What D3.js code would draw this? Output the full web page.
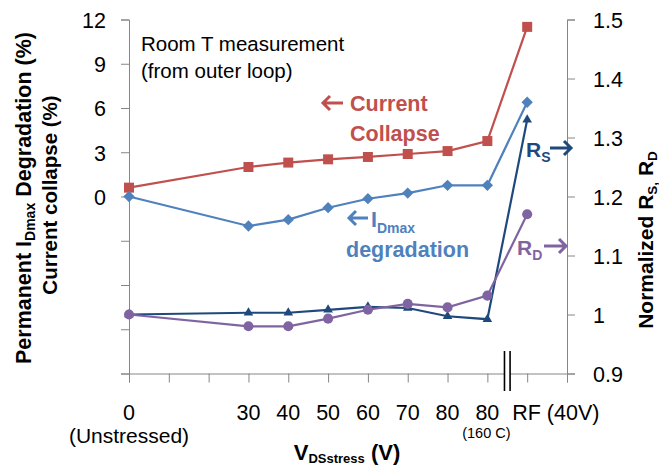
<!DOCTYPE html>
<html>
<head>
<meta charset="utf-8">
<script src="https://cdn.jsdelivr.net/npm/d3@7"></script>
<style>
  body { margin: 0; background: #fff; }
  text { font-family: "Liberation Sans", Arial, sans-serif; }
</style>
</head>
<body>
<div id="chart"></div>
<script>
// categories on the stress axis and their slot along the x axis (slot 1-2 are empty)
const categories = ["0", "30", "40", "50", "60", "70", "80", "80", "RF (40V)"];
const slots = [0, 3, 4, 5, 6, 7, 8, 9, 10];

// left axis (%)
const currentCollapse = [0.6, 2.0, 2.3, 2.52, 2.68, 2.88, 3.08, 3.76, 11.5];
const idmaxDegradation = [0, -2.0, -1.57, -0.76, -0.15, 0.23, 0.76, 0.76, 6.39];
// right axis (normalized)
const rsNorm = [1.0, 1.003, 1.003, 1.008, 1.013, 1.011, 0.997, 0.992, 1.33];
const rdNorm = [1.0, 0.98, 0.98, 0.993, 1.008, 1.018, 1.012, 1.032, 1.17];

const leftTicks = [-12, -9, -6, -3, 0, 3, 6, 9, 12];
const rightTicks = [0.9, 1.0, 1.1, 1.2, 1.3, 1.4, 1.5];

function initChart() {
    const width = 659;
    const height = 466;
    const axisColor = "#868686";

    const svg = d3.select("#chart")
        .append("svg")
        .attr("width", width)
        .attr("height", height);

    const x = d3.scaleLinear().domain([0, 11]).range([129, 567]);
    const yL = d3.scaleLinear().domain([-12, 12]).range([373.5, 19.5]);
    const yR = d3.scaleLinear().domain([0.9, 1.5]).range([373.5, 19.5]);

    // axes
    const leftAxis = svg.append("g")
        .attr("transform", `translate(${x(0)},0)`)
        .call(d3.axisLeft(yL).tickValues(leftTicks).tickSize(8).tickPadding(15)
            .tickFormat(d => d >= 0 ? d : ""));

    const rightAxis = svg.append("g")
        .attr("transform", `translate(${x(11)},0)`)
        .call(d3.axisRight(yR).tickValues(rightTicks).tickSize(8).tickPadding(18)
            .tickFormat(d => d === 1 ? "1" : d3.format(".1f")(d)));

    const bottomAxis = svg.append("g")
        .attr("transform", `translate(0,${yL(-12)})`)
        .call(d3.axisBottom(x).ticks(11).tickSize(9).tickFormat(""));

    [leftAxis, rightAxis, bottomAxis].forEach(g => {
        g.select(".domain").attr("stroke", axisColor);
        g.selectAll(".tick line").attr("stroke", axisColor);
        g.selectAll(".tick text")
            .attr("fill", "#000")
            .style("font-size", "21.5px")
            .style("font-family", "'Liberation Sans', Arial, sans-serif");
    });
    leftAxis.selectAll(".tick text").attr("dy", "0.36em");
    rightAxis.selectAll(".tick text").attr("dy", "0.36em");

    // category labels under the axis
    const labels = svg.append("g").attr("font-size", "21.5px");
    categories.forEach((c, i) => {
        const last = i === categories.length - 1;
        labels.append("text")
            .attr("x", last ? x(slots[i]) - 15 : x(slots[i]))
            .attr("y", 420)
            .attr("text-anchor", last ? "start" : "middle")
            .text(c);
    });
    labels.append("text")
        .attr("x", x(0)).attr("y", 443)
        .attr("text-anchor", "middle")
        .attr("font-size", "21px")
        .text("(Unstressed)");
    labels.append("text")
        .attr("x", x(9) - 1).attr("y", 438)
        .attr("text-anchor", "middle")
        .attr("font-size", "14.5px")
        .text("(160 C)");

    // axis break
    const bx = (x(9) + x(10)) / 2;
    svg.append("rect").attr("x", bx - 2.8).attr("y", 351).attr("width", 5.6).attr("height", 40).attr("fill", "#fff");
    [-2.8, 2.8].forEach(o => {
        svg.append("line")
            .attr("x1", bx + o).attr("x2", bx + o)
            .attr("y1", 351).attr("y2", 391)
            .attr("stroke", "#000").attr("stroke-width", 1.6);
    });

    // series
    const series = [
        { values: currentCollapse, y: yL, color: "#C0504D", symbol: d3.symbolSquare, size: 100, rotate: 0 },
        { values: idmaxDegradation, y: yL, color: "#4F81BD", symbol: d3.symbolSquare, size: 64, rotate: 45 },
        { values: rsNorm, y: yR, color: "#1F497D", symbol: d3.symbolTriangle, size: 40, rotate: 0 },
        { values: rdNorm, y: yR, color: "#8064A2", symbol: d3.symbolCircle, size: 80, rotate: 0 }
    ];

    series.forEach(s => {
        const pts = s.values.map((v, i) => [x(slots[i]), s.y(v)]);
        svg.append("path")
            .datum(pts)
            .attr("d", d3.line())
            .attr("fill", "none")
            .attr("stroke", s.color)
            .attr("stroke-width", 2.2);
        svg.append("g").selectAll("path")
            .data(pts)
            .join("path")
            .attr("d", d3.symbol().type(s.symbol).size(s.size))
            .attr("transform", d => `translate(${d[0]},${d[1]}) rotate(${s.rotate})`)
            .attr("fill", s.color);
    });

    // arrows for annotations
    function arrow(x1, x2, y, color, headLeft) {
        const tip = headLeft ? x1 : x2;
        const dir = headLeft ? 1 : -1;
        svg.append("path")
            .attr("d", `M${x1},${y}H${x2}M${tip + dir * 7},${y - 7}L${tip},${y}L${tip + dir * 7},${y + 7}`)
            .attr("fill", "none")
            .attr("stroke", color)
            .attr("stroke-width", 3)
            .attr("stroke-linejoin", "miter");
    }

    // annotations
    const note = svg.append("g");
    note.append("text").attr("x", 141).attr("y", 51).attr("font-size", "20.5px").text("Room T measurement");
    note.append("text").attr("x", 141).attr("y", 78).attr("font-size", "20.5px").text("(from outer loop)");

    arrow(323, 343, 103, "#C0504D", true);
    note.append("text").attr("x", 350).attr("y", 111).attr("font-size", "21.5px").attr("font-weight", "bold")
        .attr("fill", "#C0504D").text("Current");
    note.append("text").attr("x", 350).attr("y", 141).attr("font-size", "21.5px").attr("font-weight", "bold")
        .attr("fill", "#C0504D").text("Collapse");

    arrow(349, 368, 218, "#4F81BD", true);
    const idm = note.append("text").attr("x", 371).attr("y", 227).attr("font-size", "21.5px")
        .attr("font-weight", "bold").attr("fill", "#4F81BD");
    idm.append("tspan").text("I");
    idm.append("tspan").attr("dy", 6).attr("font-size", "14px").text("Dmax");
    note.append("text").attr("x", 346).attr("y", 257).attr("font-size", "21.5px").attr("font-weight", "bold")
        .attr("fill", "#4F81BD").text("degradation");

    const rsT = note.append("text").attr("x", 526).attr("y", 157).attr("font-size", "21px")
        .attr("font-weight", "bold").attr("fill", "#1F497D");
    rsT.append("tspan").text("R");
    rsT.append("tspan").attr("dy", 5).attr("font-size", "14px").text("S");
    arrow(550, 571, 148, "#1F497D", false);

    const rdT = note.append("text").attr("x", 517).attr("y", 255).attr("font-size", "21px")
        .attr("font-weight", "bold").attr("fill", "#8064A2");
    rdT.append("tspan").text("R");
    rdT.append("tspan").attr("dy", 5).attr("font-size", "14px").text("D");
    arrow(544, 566, 246, "#8064A2", false);

    // axis titles
    const t1 = svg.append("text")
        .attr("transform", "translate(31,198) rotate(-90)")
        .attr("text-anchor", "middle")
        .attr("font-size", "21.5px").attr("font-weight", "bold");
    t1.append("tspan").text("Permanent I");
    t1.append("tspan").attr("dy", 4).attr("font-size", "14px").text("Dmax");
    t1.append("tspan").attr("dy", -4).text(" Degradation (%)");

    svg.append("text")
        .attr("transform", "translate(57,195) rotate(-90)")
        .attr("text-anchor", "middle")
        .attr("font-size", "20.5px").attr("font-weight", "bold")
        .text("Current collapse (%)");

    const t3 = svg.append("text")
        .attr("transform", "translate(653,240) rotate(-90)")
        .attr("text-anchor", "middle")
        .attr("font-size", "21px").attr("font-weight", "bold");
    t3.append("tspan").text("Normalized R");
    t3.append("tspan").attr("dy", 3.5).attr("font-size", "13.5px").text("S,");
    t3.append("tspan").attr("dy", -3.5).text(" R");
    t3.append("tspan").attr("dy", 3.5).attr("font-size", "13.5px").text("D");

    const t4 = svg.append("text")
        .attr("x", 347).attr("y", 460)
        .attr("text-anchor", "middle")
        .attr("font-size", "22px").attr("font-weight", "bold");
    t4.append("tspan").text("V");
    t4.append("tspan").attr("dy", 3).attr("font-size", "13px").text("DSstress");
    t4.append("tspan").attr("dy", -3).text(" (V)");
}

window.onload = initChart;
</script>
</body>
</html>
